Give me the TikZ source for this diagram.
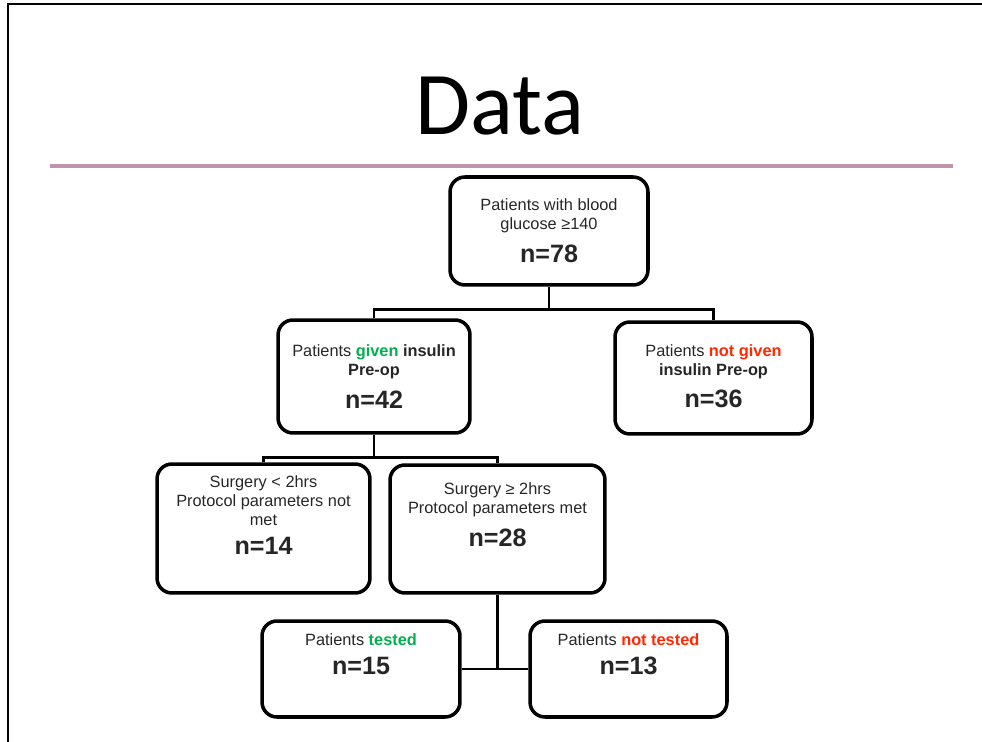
\documentclass[tikz,border=0pt]{standalone}
\usepackage{fontspec}
\setmainfont{Liberation Sans}
\newfontfamily\titlefont{Carlito}
\usetikzlibrary{positioning}
\definecolor{okgreen}{RGB}{0,176,80}
\definecolor{nored}{RGB}{255,40,0}
\definecolor{rulepink}{RGB}{192,146,172}
\newcommand{\nline}[1]{{\fontsize{14.3}{16}\selectfont\bfseries #1}}
\begin{document}
\begin{tikzpicture}[x=0.02cm,y=-0.02cm,
  box/.style={draw=black,line width=2pt,rounded corners=8.5pt,inner sep=0pt},
  txt/.style={align=center,inner sep=0pt,font=\fontsize{9.3}{10.8}\selectfont,text=black!85},
  link/.style={draw=black,line width=1.6pt}]
\useasboundingbox (0,0) rectangle (982,742);
% slide frame and title
\draw [line width=1.1pt] (8,742) -- (8,4) -- (982,4);
\node [anchor=base,font=\titlefont\fontsize{51}{60}\selectfont] (title) at (500,135) {Data};
\draw [rulepink,line width=2.3pt] (50,166) -- (953,166);
% boxes
\node [box,minimum width=3.96cm,minimum height=2.16cm] (top) at (549,231) {};
\node [box,minimum width=3.84cm,minimum height=2.26cm] (given) at (374,376.5) {};
\node [box,minimum width=3.94cm,minimum height=2.24cm] (notgiven) at (713.5,378) {};
\node [box,minimum width=4.26cm,minimum height=2.58cm] (short) at (263.5,528.5) {};
\node [box,minimum width=4.30cm,minimum height=2.56cm] (long) at (497.5,529) {};
\node [box,minimum width=3.96cm,minimum height=1.92cm] (tested) at (361,669) {};
\node [box,minimum width=3.94cm,minimum height=1.92cm] (nottested) at (628.5,669) {};
% texts
\node [txt] (top-t) at (top) {Patients with blood\\glucose ≥140\\[5.7pt]\nline{n=78}};
\node [txt] (given-t) at (given) {Patients \textbf{\textcolor{okgreen}{given}} \textbf{insulin}\\\textbf{Pre-op}\\[5.7pt]\nline{n=42}};
\node [txt] (notgiven-t) at ([yshift=1pt]notgiven.center) {Patients \textbf{\textcolor{nored}{not given}}\\\textbf{insulin Pre-op}\\[5.7pt]\nline{n=36}};
\node [txt] (short-t) at ([yshift=7.7pt]short.center) {Surgery < 2hrs\\Protocol parameters not\\met\\[5.7pt]\nline{n=14}};
\node [txt] (long-t) at ([yshift=8.2pt]long.center) {Surgery ≥ 2hrs\\Protocol parameters met\\[5.7pt]\nline{n=28}};
\node [txt] (tested-t) at ([yshift=8.2pt]tested.center) {Patients \textbf{\textcolor{okgreen}{tested}}\\[5.7pt]\nline{n=15}};
\node [txt] (nottested-t) at ([yshift=8.2pt]nottested.center) {Patients \textbf{\textcolor{nored}{not tested}}\\[5.7pt]\nline{n=13}};
% connectors
\draw [link] (top.south) -- ++(0,23) coordinate (j1);
\draw [link] (given.north) |- (j1) -| (notgiven.north);
\draw [link] (given.south) -- ++(0,23) coordinate (j2);
\draw [link] (short.north) |- (j2) -| (long.north);
\draw [link] (long.south) -- (long.south |- tested.east);
\draw [link] (tested.east) -- (nottested.west);
\end{tikzpicture}
\end{document}
